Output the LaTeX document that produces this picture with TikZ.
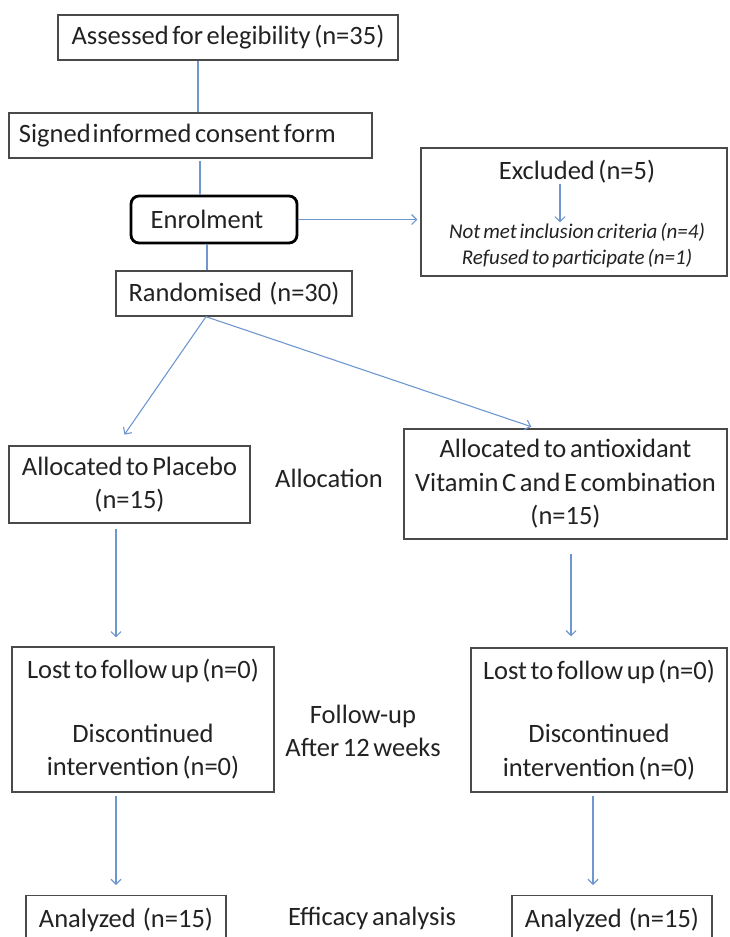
\documentclass[tikz,border=0pt]{standalone}
\usepackage{fontspec}
\setmainfont{Carlito}[WordSpace=0.6]
\usetikzlibrary{arrows.meta,calc}
\definecolor{boxline}{HTML}{4A4A4A}
\definecolor{connblue}{HTML}{6F97CF}
\definecolor{txt}{HTML}{222222}
\begin{document}
\begin{tikzpicture}[x=1pt,y=-1pt,
  box/.style={draw=boxline, line width=1.4pt, inner sep=0pt, text=txt, align=center, font=\fontsize{26.5}{33.5}\selectfont},
  lbl/.style={text=txt, align=center, font=\fontsize{26.5}{33.5}\selectfont, inner sep=0pt},
  conn/.style={draw=connblue, line width=1.1pt},
  arr/.style={conn, -{Straight Barb[length=5pt,width=10pt]}}]
\useasboundingbox (0,0) rectangle (729,937);
\clip (0,0) rectangle (729,937);
% helper x positions
\coordinate (xA) at (198,0);
\coordinate (xB) at (200,0);
\coordinate (xC) at (207,0);
\coordinate (xD) at (206,0);
\coordinate (xLt) at (117,0);
\coordinate (xRt) at (536,0);
\coordinate (xL) at (116,0);
\coordinate (xR1) at (571,0);
\coordinate (xR2) at (593,0);
% boxes
\node[box, minimum width=340pt, minimum height=45pt] (assess) at (228,37.5) {Assessed for elegibility (n=35)};
\node[box, minimum width=363pt, minimum height=45pt] (signed) at (190.5,135.5) {\makebox[343pt][l]{Signed\hspace{2pt}informed consent form}};
\node[box, draw=black, line width=2.8pt, rounded corners=8pt, minimum width=166pt, minimum height=47pt] (enrol) at (214,219.5) {Enrolment\hspace*{14pt}};
\node[box, minimum width=236pt, minimum height=45pt] (rand) at (234,293.5) {Randomised\ \ (n=30)};
\node[box, minimum width=306pt, minimum height=128pt] (excl) at (574,212) {};
\node[lbl] (exhead) at (577,172) {Excluded (n=5)};
\node[lbl, font=\itshape\fontsize{21}{26}\selectfont] (exlist) at (577,246) {Not met inclusion criteria (n=4)\\Refused to participate (n=1)};
\node[box, minimum width=241pt, minimum height=77pt] (allocL) at (129.5,484.5) {Allocated to Placebo\\(n=15)};
\node[box, minimum width=323pt, minimum height=110pt] (allocR) at (565.5,484) {Allocated to antioxidant\\Vitamin C and E combination\\(n=15)};
\node[lbl] (alloclbl) at (329,478) {Allocation};
\node[box, minimum width=262pt, minimum height=145pt] (lostL) at (143,719.5) {Lost to follow up (n=0)\\[30pt]Discontinued\\intervention (n=0)};
\node[box, minimum width=256pt, minimum height=144pt] (lostR) at (599,720) {Lost to follow up (n=0)\\[30pt]Discontinued\\intervention (n=0)};
\node[lbl] (fulbl) at (363,731) {Follow-up\\After 12 weeks};
\node[box, anchor=north, minimum width=200pt, minimum height=48pt] (anaL) at (126,895) {Analyzed\ \ (n=15)};
\node[box, anchor=north, minimum width=200pt, minimum height=48pt] (anaR) at (612,895) {Analyzed\ \ (n=15)};
\node[lbl] (efflbl) at (372,918) {Efficacy analysis};
% connectors
\draw[conn] (assess.south -| xA) -- (signed.north -| xA);
\draw[conn, shorten <=2pt] (signed.south -| xB) -- (enrol.north -| xB);
\draw[conn] (enrol.south -| xC) -- (rand.north -| xC);
\draw[arr, shorten >=3pt] (enrol.east) -- (excl.west |- enrol.east);
\draw[arr, shorten >=1pt] ([xshift=-17pt]exhead.south) -- ([xshift=-17pt]exhead.south |- exlist.north);
\draw[arr, shorten >=13pt] (rand.south -| xD) -- (allocL.north -| xLt);
\draw[arr, shorten >=5pt] (rand.south -| xD) -- (allocR.north -| xRt);
\draw[arr, shorten <=5pt, shorten >=9pt] (allocL.south -| xL) -- (lostL.north -| xL);
\draw[arr, shorten <=14pt, shorten >=11pt] (allocR.south -| xR1) -- (lostR.north -| xR1);
\draw[arr, shorten <=3pt, shorten >=10pt] (lostL.south -| xL) -- (anaL.north -| xL);
\draw[arr, shorten <=3pt, shorten >=10pt] (lostR.south -| xR2) -- (anaR.north -| xR2);
\end{tikzpicture}
\end{document}
